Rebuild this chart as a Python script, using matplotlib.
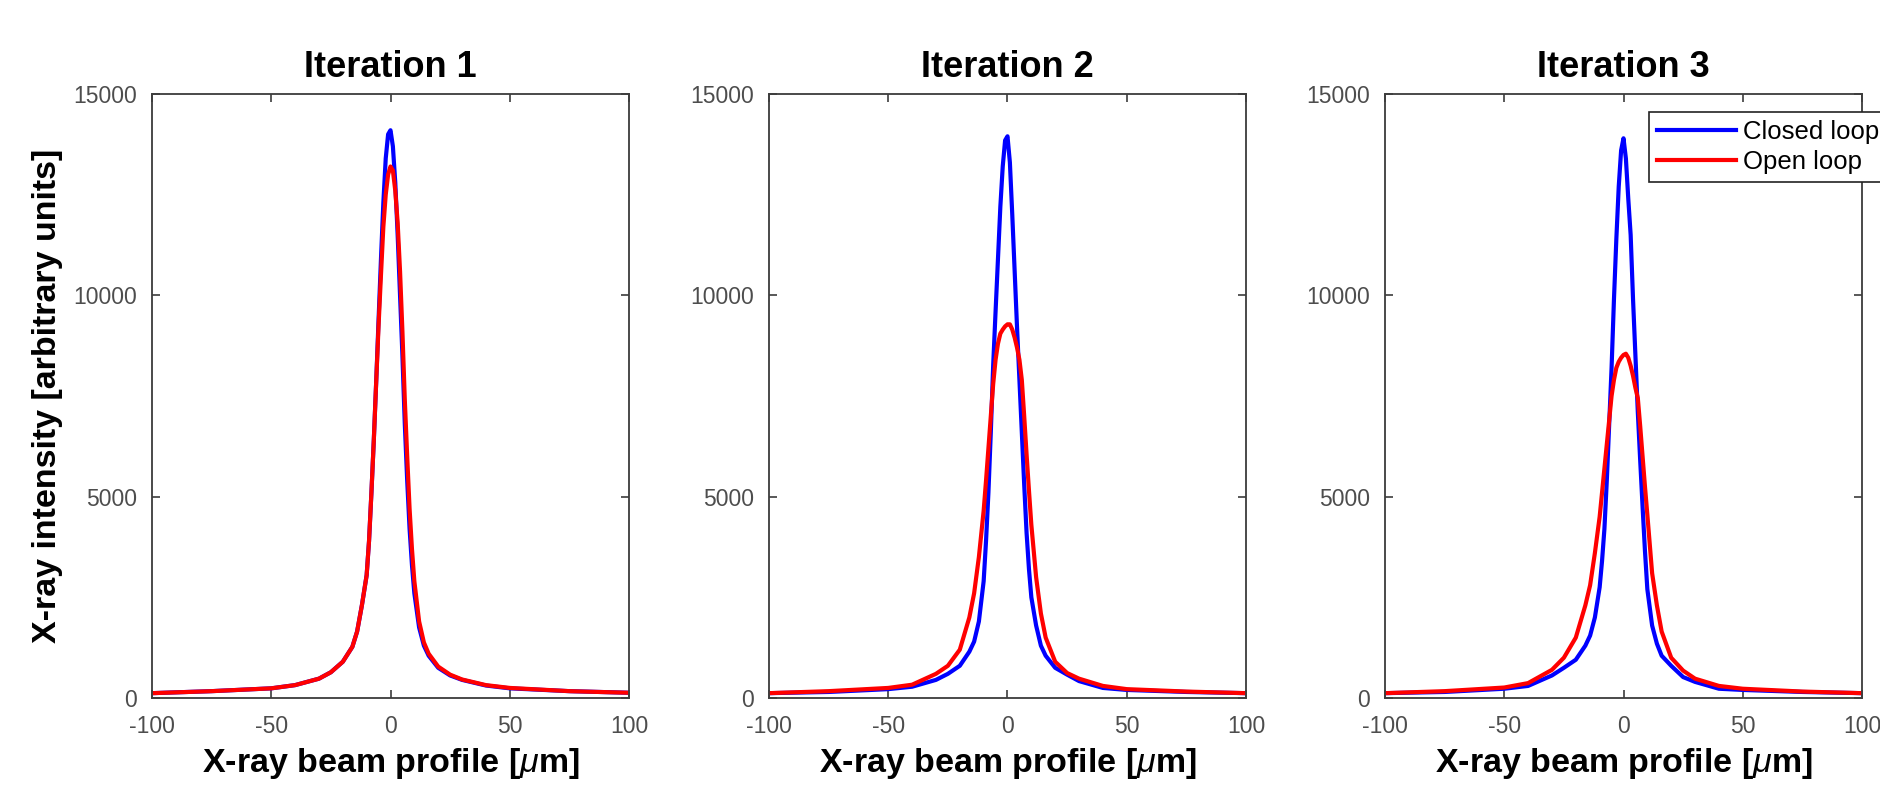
#!/usr/bin/env python3
"""Three-panel X-ray beam profile comparison: closed loop vs open loop."""
import matplotlib

matplotlib.use("Agg")
import matplotlib.pyplot as plt

# Beam position [um], shared by every curve
X_UM = [-100, -75, -50, -40, -30, -25, -20, -16, -14, -12, -10, -9, -8, -7,
        -6, -5, -4, -3, -2, -1, 0, 1, 2, 3, 4, 5, 6, 7, 8, 9, 10, 12, 14, 16,
        20, 25, 30, 40, 50, 75, 100]

# Iteration 1
CLOSED_1 = [120, 170, 240, 320, 480, 640, 900, 1270, 1650, 2300, 3050, 3900,
            5100, 6400, 7850, 9400, 10900, 12300, 13400, 14000, 14100, 13700,
            12800, 11500, 10000, 8500, 6800, 5400, 4200, 3300, 2600, 1750,
            1300, 1050, 750, 560, 450, 310, 240, 170, 130]
OPEN_1 = [120, 170, 240, 320, 480, 640, 900, 1270, 1650, 2300, 3050, 3900,
          5100, 6400, 7850, 9250, 10500, 11700, 12500, 13000, 13200, 13100,
          12600, 11800, 10600, 9100, 7400, 6000, 4700, 3700, 2900, 1900, 1380,
          1100, 780, 580, 460, 320, 250, 170, 130]

# Iteration 2
CLOSED_2 = [120, 150, 220, 280, 450, 600, 800, 1150, 1400, 1900, 2900, 3900,
            5100, 6600, 8270, 9600, 10900, 12200, 13200, 13850, 13950, 13300,
            12000, 10600, 9200, 7900, 6600, 5300, 4100, 3200, 2500, 1800, 1300,
            1050, 750, 580, 420, 250, 200, 150, 120]
OPEN_2 = [120, 170, 250, 330, 600, 800, 1200, 2000, 2600, 3500, 4650, 5400,
          6200, 7000, 7800, 8400, 8800, 9050, 9150, 9230, 9280, 9280, 9150,
          8950, 8700, 8400, 7900, 7000, 6050, 5150, 4300, 3000, 2100, 1500,
          900, 620, 480, 300, 220, 160, 120]

# Iteration 3
CLOSED_3 = [120, 150, 230, 300, 560, 750, 950, 1300, 1550, 2000, 2750, 3400,
            4200, 5400, 6800, 8200, 9900, 11400, 12700, 13600, 13900, 13400,
            12400, 11500, 9900, 8500, 7100, 5900, 4750, 3650, 2700, 1800, 1350,
            1050, 800, 520, 400, 230, 200, 150, 120]
OPEN_3 = [120, 170, 260, 370, 700, 1000, 1500, 2300, 2800, 3600, 4500, 5100,
          5700, 6300, 6900, 7500, 7900, 8200, 8350, 8450, 8520, 8550, 8450,
          8250, 8000, 7700, 7450, 6750, 6000, 5250, 4550, 3100, 2300, 1650,
          1000, 680, 480, 300, 230, 160, 120]

TITLES = ["Iteration 1", "Iteration 2", "Iteration 3"]
CLOSED = [CLOSED_1, CLOSED_2, CLOSED_3]
OPEN = [OPEN_1, OPEN_2, OPEN_3]
X_TICKS = [-100, -50, 0, 50, 100]
Y_TICKS = [0, 5000, 10000, 15000]

W, H = 1881, 792
AX_LEFTS = [152, 769, 1385]   # pixels
AX_WIDTH = 477
AX_TOP, AX_BOTTOM = 94, 698

plt.rcParams.update({
    "font.family": ["Liberation Sans", "DejaVu Sans"],
    "mathtext.fontset": "custom",
    "mathtext.it": "Liberation Sans:italic",
    "mathtext.rm": "Liberation Sans",
    "axes.unicode_minus": False,
})

AX_COLOR = "#3c3c3c"
TICK_COLOR = "#4d4d4d"

fig = plt.figure(figsize=(W / 100, H / 100), dpi=100)

for i, left in enumerate(AX_LEFTS):
    rect = [left / W, 1 - AX_BOTTOM / H, AX_WIDTH / W, (AX_BOTTOM - AX_TOP) / H]
    ax = fig.add_axes(rect)
    ax.plot(X_UM, CLOSED[i], color="#0000ff", linewidth=3.0, label="Closed loop")
    ax.plot(X_UM, OPEN[i], color="#ff0000", linewidth=3.0, label="Open loop")

    ax.set_xlim(-100, 100)
    ax.set_ylim(0, 15000)
    ax.set_xticks(X_TICKS)
    ax.set_yticks(Y_TICKS)
    ax.tick_params(direction="in", length=6, width=1.2, color=AX_COLOR,
                   labelcolor=TICK_COLOR, labelsize=16.5, top=True, right=True)
    ax.tick_params(axis="x", pad=12)
    ax.tick_params(axis="y", pad=11)
    for spine in ax.spines.values():
        spine.set_color(AX_COLOR)
        spine.set_linewidth(1.3)

    ax.set_title(TITLES[i], fontsize=26, fontweight="bold", pad=12)
    ax.set_xlabel(r"X-ray beam profile [$\mu$m]", fontsize=24.5,
                  fontweight="bold", labelpad=6)
    if i == 0:
        ax.set_ylabel("X-ray intensity [arbitrary units]", fontsize=24.5,
                      fontweight="bold", labelpad=7)
    if i == 2:
        # legend runs past the right edge of the figure, as in the original
        leg = ax.legend(loc="upper left",
                        bbox_to_anchor=(1649 / W, 1 - 112 / H),
                        bbox_transform=fig.transFigure,
                        fontsize=18.5, frameon=True, fancybox=False,
                        framealpha=1, edgecolor="#222222",
                        handlelength=3.1, handletextpad=0.25,
                        borderpad=0.3, labelspacing=0.25, borderaxespad=0)
        leg.get_frame().set_linewidth(1.2)

fig.savefig("out.png", dpi=100)
